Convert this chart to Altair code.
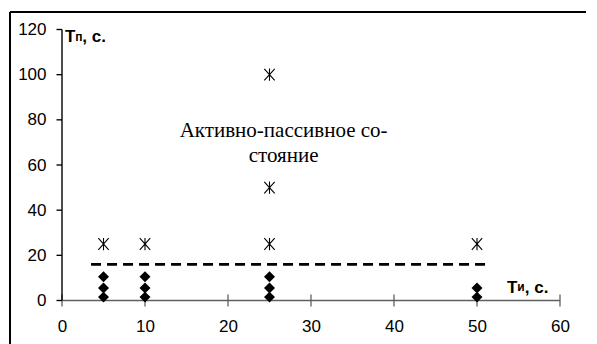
import altair as alt
import pandas as pd

# Data
diamond_x = [5, 5, 5, 10, 10, 10, 25, 25, 25, 50, 50]
diamond_y = [1.5, 5.5, 10.5, 1.5, 5.5, 10.5, 1.5, 5.5, 10.5, 1.5, 5.5]
star_x = [5, 10, 25, 25, 25, 50]
star_y = [25, 25, 25, 50, 100, 25]
threshold_x = [3.5, 51.5]
threshold_y = [16, 16]
x_ticks = [0, 10, 20, 30, 40, 50, 60]
y_ticks = [0, 20, 40, 60, 80, 100, 120]
note_lines = ["Активно-пассивное со-", "стояние"]
note_x = [26.7, 26.7]
note_y = [75, 64]

W, H = 498, 271

xs = alt.Scale(domain=[0, 60], nice=False, zero=False)
ys = alt.Scale(domain=[0, 120], nice=False, zero=False)

xaxis = alt.Axis(values=x_ticks, grid=False, domain=False, ticks=False, labelPadding=18,
                 labelFlush=False, title=None, labelFontSize=17, labelFont="Arial",
                 labelColor="black")
yaxis = alt.Axis(values=y_ticks, grid=False, domain=False, ticks=False, labelPadding=16,
                 labelFlush=False, title=None, labelFontSize=17, labelFont="Arial",
                 labelColor="black")


def X(f="x"):
    return alt.X(f"{f}:Q", scale=xs, axis=xaxis)


def Y(f="y"):
    return alt.Y(f"{f}:Q", scale=ys, axis=yaxis)


d_df = pd.DataFrame({"x": diamond_x, "y": diamond_y})
s_df = pd.DataFrame({"x": star_x, "y": star_y})
t_df = pd.DataFrame({"x": threshold_x, "y": threshold_y})
n_df = pd.DataFrame({"x": note_x, "y": note_y, "t": note_lines})
xt_df = pd.DataFrame({"x": x_ticks})
yt_df = pd.DataFrame({"y": y_ticks})
xd_df = pd.DataFrame({"x": [x_ticks[0], x_ticks[-1]], "y": [0, 0]})
ya_df = pd.DataFrame({"y": [y_ticks[0]], "y2": [y_ticks[-1]]})

# hand-drawn axis lines and ticks
x_domain = alt.Chart(xd_df).mark_line(color="#606060", strokeWidth=1.3).encode(x=X(), y=Y())
x_tick = alt.Chart(xt_df).mark_tick(color="#606060", thickness=1.3, size=12, orient="vertical",
                                    opacity=1).encode(x=X(), y=alt.value(H))
# y axis line as a thin filled rectangle
y_domain = alt.Chart(ya_df).mark_rect(color="black", opacity=1).encode(
    y=Y(), y2="y2:Q", x=alt.value(-0.7), x2=alt.value(0.7))
# y ticks as thin filled rectangles
y_tick = alt.Chart(yt_df).transform_calculate(
    ya="datum.y - 0.3", yb="datum.y + 0.3"
).mark_rect(color="black", opacity=1).encode(
    y=alt.Y("ya:Q", scale=ys, axis=yaxis), y2="yb:Q", x=alt.value(-5.5), x2=alt.value(0))

diamonds = alt.Chart(d_df).mark_point(shape="diamond", filled=True, color="black", size=120,
                                      opacity=1).encode(x=X(), y=Y())

star_path = "M-0.85,-0.95L0.85,0.95M0.85,-0.95L-0.85,0.95M0,-1L0,1"
stars = alt.Chart(s_df).mark_point(shape=star_path, filled=False, stroke="black", strokeWidth=1.1,
                                   size=150, opacity=1).encode(x=X(), y=Y())

dash = alt.Chart(t_df).mark_line(color="black", strokeWidth=2.6, strokeDash=[10, 6]).encode(
    x=X(), y=Y())

note = alt.Chart(n_df).mark_text(font="Liberation Serif", fontSize=21, color="black").encode(
    x=X(), y=Y(), text="t:N")

# Axis titles as text with smaller subscript-like letter
ty = pd.DataFrame({"x": [0.36], "y": [116.5], "t": ["T"]})
ty2 = pd.DataFrame({"x": [1.6], "y": [116.8], "t": ["п"]})
ty3 = pd.DataFrame({"x": [2.45], "y": [116.5], "t": [", с."]})
tx = pd.DataFrame({"x": [53.6], "y": [5.6], "t": ["T"]})
tx2 = pd.DataFrame({"x": [54.85], "y": [5.9], "t": ["и"]})
tx3 = pd.DataFrame({"x": [55.75], "y": [5.6], "t": [", с."]})


def lab(df, size):
    return alt.Chart(df).mark_text(font="Arial", fontWeight="bold", fontSize=size, color="black",
                                   align="left", baseline="middle").encode(
        x=X(), y=Y(), text="t:N")


titles = [lab(ty, 17), lab(ty2, 12), lab(ty3, 17), lab(tx, 17), lab(tx2, 12), lab(tx3, 17)]

# outer frame (left and top border)
frame_left = alt.Chart(pd.DataFrame({"a": [0]})).mark_rule(color="black", strokeWidth=2).encode(
    x=alt.value(-52), y=alt.value(-17.5), y2=alt.value(340))
frame_top = alt.Chart(pd.DataFrame({"a": [0]})).mark_rule(color="black", strokeWidth=2).encode(
    x=alt.value(-52), x2=alt.value(540), y=alt.value(-17.5))

chart = alt.layer(frame_left, frame_top, x_tick, x_domain, dash, diamonds, stars, note, *titles,
                  y_tick, y_domain).properties(
    width=W, height=H,
    background="white",
    autosize=alt.AutoSizeParams(type="none"),
    padding={"left": 54, "top": 21.5, "right": 26, "bottom": 45},
).configure_view(stroke=None)

chart.save("out.html", embed_options={"renderer": "svg", "actions": False})
